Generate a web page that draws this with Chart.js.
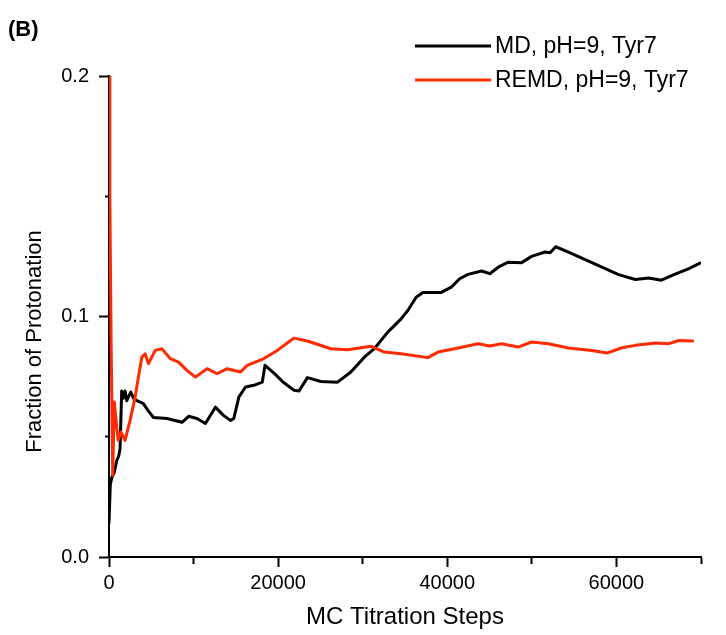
<!DOCTYPE html>
<html>
<head>
<meta charset="utf-8">
<script src="https://cdn.jsdelivr.net/npm/chart.js@4/dist/chart.umd.min.js"></script>
<style>
  html, body { margin: 0; padding: 0; background: #fff; }
  #wrap { width: 726px; height: 635px; position: relative; }
</style>
</head>
<body>
<div id="wrap"><canvas id="c" width="726" height="635"></canvas></div>
<script>
// ---- data ----
const panelLabel = "(B)";
const xTitle = "MC Titration Steps";
const yTitle = "Fraction of Protonation";
const seriesNames = ["MD, pH=9, Tyr7", "REMD, pH=9, Tyr7"];
const seriesColors = ["#000000", "#ff2a00"];

const xTickLabels = { 0: "0", 20000: "20000", 40000: "40000", 60000: "60000" };
const yTickLabels = { "0": "0.0", "0.1": "0.1", "0.2": "0.2" };

const mdSteps = [0, 150, 320, 600, 914, 1150, 1306, 1500, 1700, 1900, 2100, 2576, 2900, 3290, 4070, 4600, 5260, 6850, 8630, 9420, 10400, 11400, 12580, 13500, 14360, 14760, 15350, 16140, 17130, 18120, 18450, 19500, 20500, 21880, 22470, 23460, 25050, 27030, 28600, 30190, 31370, 32960, 34540, 35330, 36320, 37120, 39290, 40480, 41460, 42450, 44040, 45030, 46020, 47210, 48790, 49970, 51550, 52150, 52820, 54330, 55910, 58280, 60260, 62240, 63820, 65320, 66590, 68570, 70000];
const mdFraction = [0.014, 0.030, 0.033, 0.035, 0.040, 0.042, 0.045, 0.069, 0.066, 0.069, 0.065, 0.0686, 0.066, 0.065, 0.0638, 0.061, 0.058, 0.0576, 0.056, 0.0585, 0.0576, 0.0555, 0.0623, 0.059, 0.0568, 0.0576, 0.0665, 0.0707, 0.0714, 0.0727, 0.0797, 0.0765, 0.073, 0.0693, 0.069, 0.0746, 0.073, 0.0727, 0.0769, 0.0831, 0.0866, 0.0935, 0.099, 0.1025, 0.108, 0.110, 0.110, 0.1122, 0.1157, 0.1175, 0.1189, 0.1178, 0.1205, 0.1226, 0.1224, 0.125, 0.1268, 0.1265, 0.129, 0.1268, 0.1243, 0.1205, 0.1174, 0.1154, 0.116, 0.1151, 0.1171, 0.1199, 0.1224];

const remdSteps = [0, 100, 250, 440, 630, 800, 914, 1100, 1400, 1700, 1900, 2490, 3090, 3480, 3880, 4270, 4670, 5460, 6250, 7240, 8230, 9220, 10210, 11600, 12780, 13970, 15550, 16340, 18320, 19900, 21480, 21880, 23460, 26230, 28210, 30980, 32560, 34540, 37710, 38900, 40870, 43640, 45030, 46410, 48390, 49970, 51950, 54330, 57090, 58870, 60650, 62240, 64610, 66190, 67380, 69160];
const remdFraction = [0.200, 0.150, 0.090, 0.034, 0.0644, 0.058, 0.054, 0.0485, 0.052, 0.050, 0.0485, 0.0568, 0.0665, 0.0748, 0.0831, 0.0845, 0.0804, 0.0859, 0.0866, 0.0825, 0.081, 0.0776, 0.0748, 0.0783, 0.0762, 0.0783, 0.0769, 0.0797, 0.0825, 0.0859, 0.090, 0.091, 0.0898, 0.0866, 0.0862, 0.0876, 0.0852, 0.0845, 0.0829, 0.0852, 0.0866, 0.0887, 0.0877, 0.0887, 0.0873, 0.0894, 0.0887, 0.0869, 0.0859, 0.0848, 0.087, 0.088, 0.089, 0.0887, 0.090, 0.0898];

// ---- build ----
const toPoints = (xs, ys) => xs.map((x, i) => ({ x: x, y: ys[i] }));
const FONT = "'Liberation Sans', Arial, sans-serif";
Chart.defaults.color = '#000';
Chart.defaults.font.family = FONT;

const isMajorX = v => Object.prototype.hasOwnProperty.call(xTickLabels, String(v));
const yKey = v => String(Math.round(v * 100) / 100);
const isMajorY = v => Object.prototype.hasOwnProperty.call(yTickLabels, yKey(v));

const legendPlugin = {
  id: 'sideLegend',
  afterDraw(chart) {
    const ctx = chart.ctx;
    ctx.save();
    // panel label
    ctx.font = "bold 22px " + FONT;
    ctx.fillStyle = '#000';
    ctx.textBaseline = 'middle';
    ctx.textAlign = 'left';
    ctx.fillText(panelLabel, 8, 30);
    // legend
    const rows = [46, 80];
    chart.data.datasets.forEach((ds, i) => {
      const y = rows[i];
      ctx.strokeStyle = ds.borderColor;
      ctx.lineWidth = 3;
      ctx.beginPath();
      ctx.moveTo(415, y);
      ctx.lineTo(491, y);
      ctx.stroke();
      ctx.font = "23px " + FONT;
      ctx.fillStyle = '#000';
      ctx.fillText(ds.label, 495, y + 1);
    });
    ctx.restore();
  }
};

// y title sits a little below the axis centre in the reference
const yTitlePlugin = {
  id: 'yTitleShift',
  afterDraw(chart) {
    const s = chart.scales.y;
    const ctx = chart.ctx;
    ctx.save();
    ctx.font = "22px " + FONT;
    ctx.fillStyle = '#000';
    ctx.textAlign = 'center';
    ctx.textBaseline = 'middle';
    ctx.translate(35, s.getPixelForValue(0.1) + 25);
    ctx.rotate(-Math.PI / 2);
    ctx.fillText(yTitle, 0, 0);
    ctx.restore();
  }
};

new Chart(document.getElementById('c'), {
  type: 'line',
  data: {
    datasets: [
      { label: seriesNames[0], data: toPoints(mdSteps, mdFraction), borderColor: seriesColors[0], backgroundColor: seriesColors[0], borderWidth: 3, pointRadius: 0, tension: 0, order: 1, borderJoinStyle: 'round' },
      { label: seriesNames[1], data: toPoints(remdSteps, remdFraction), borderColor: seriesColors[1], backgroundColor: seriesColors[1], borderWidth: 3, pointRadius: 0, tension: 0, order: 0, borderJoinStyle: 'round' }
    ]
  },
  options: {
    responsive: false,
    animation: false,
    layout: { padding: { top: 76, right: 25, bottom: 0, left: 0 } },
    plugins: { legend: { display: false }, title: { display: false }, tooltip: { enabled: false } },
    scales: {
      x: {
        type: 'linear', min: 0, max: 70000,
        afterFit: s => { s.height = 78; },
        border: { display: true, color: '#000', width: 2 },
        grid: {
          drawOnChartArea: false, drawTicks: true, tickLength: 10, tickWidth: 2, tickColor: '#000',
          tickBorderDash: ctx => (ctx.tick && isMajorX(ctx.tick.value)) ? [] : [6, 30]
        },
        ticks: {
          stepSize: 10000, autoSkip: false, maxRotation: 0, padding: 4,
          font: { size: 20, family: FONT },
          callback: v => isMajorX(v) ? xTickLabels[String(v)] : ''
        },
        title: { display: true, text: xTitle, font: { size: 24, family: FONT }, padding: { top: 0, bottom: 3 } }
      },
      y: {
        type: 'linear', min: 0, max: 0.2,
        afterFit: s => { s.width = 109; },
        border: { display: true, color: '#000', width: 2 },
        grid: {
          drawOnChartArea: false, drawTicks: true, tickLength: 10, tickWidth: 2, tickColor: '#000',
          tickBorderDash: ctx => (ctx.tick && isMajorY(ctx.tick.value)) ? [] : [0, 6, 30, 0]
        },
        ticks: {
          stepSize: 0.05, autoSkip: false, padding: 10,
          font: { size: 20, family: FONT },
          callback: v => isMajorY(v) ? yTickLabels[yKey(v)] : ''
        },
        title: { display: false }
      }
    }
  },
  plugins: [legendPlugin, yTitlePlugin]
});
</script>
</body>
</html>
